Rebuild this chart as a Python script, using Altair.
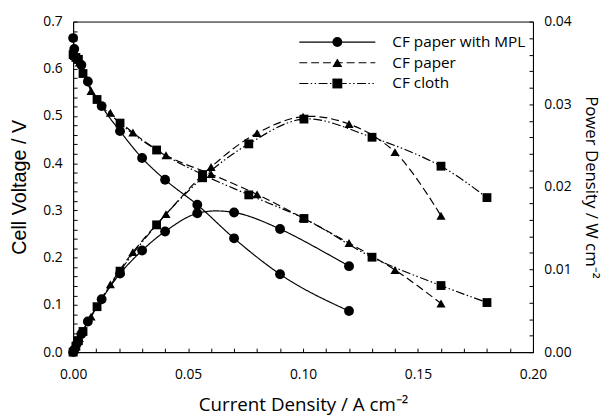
import altair as alt
import pandas as pd

# ---------------- data ----------------
series_names = ["CF paper with MPL", "CF paper", "CF cloth"]

mpl_current = [0.0, 0.0005, 0.0018, 0.0036, 0.0064, 0.0124, 0.0204, 0.030, 0.040, 0.054, 0.070, 0.090, 0.120]
mpl_voltage = [0.665, 0.642, 0.620, 0.608, 0.573, 0.521, 0.468, 0.411, 0.365, 0.312, 0.241, 0.165, 0.087]
mpl_power = [0.0, 0.0003, 0.0011, 0.0022, 0.0037, 0.0064, 0.0095, 0.0123, 0.0146, 0.0168, 0.0169, 0.0149, 0.0104]

paper_current = [0.0, 0.0005, 0.0027, 0.0078, 0.0162, 0.026, 0.0404, 0.060, 0.080, 0.100, 0.120, 0.140, 0.160]
paper_voltage = [0.637, 0.627, 0.613, 0.553, 0.507, 0.465, 0.417, 0.377, 0.334, 0.284, 0.231, 0.174, 0.103]
paper_power = [0.0, 0.0003, 0.0017, 0.0043, 0.0082, 0.0121, 0.0167, 0.0224, 0.0265, 0.0285, 0.0276, 0.0242, 0.0165]

cloth_current = [0.0, 0.0012, 0.0023, 0.0043, 0.0104, 0.0204, 0.0363, 0.0563, 0.0764, 0.1004, 0.130, 0.160, 0.180]
cloth_voltage = [0.630, 0.624, 0.620, 0.590, 0.535, 0.485, 0.428, 0.376, 0.333, 0.283, 0.201, 0.141, 0.105]
cloth_power = [0.0, 0.0007, 0.0014, 0.0025, 0.0055, 0.0098, 0.0154, 0.0211, 0.0252, 0.0282, 0.0260, 0.0225, 0.0187]

x_tick_values = [round(i * 0.01, 2) for i in range(0, 21)]
v_tick_values = [round(i * 0.02, 2) for i in range(0, 36)]
p_tick_values = [round(i * 0.002, 3) for i in range(0, 21)]

# ---------------- build table ----------------
rows = []
for k, (name, cur, volt, pw) in enumerate([
    (series_names[0], mpl_current, mpl_voltage, mpl_power),
    (series_names[1], paper_current, paper_voltage, paper_power),
    (series_names[2], cloth_current, cloth_voltage, cloth_power),
]):
    for i, v, p in zip(cur, volt, pw):
        rows.append({"series": name, "dash_key": f"d{k}", "I": i, "V": v, "P": p})
df = pd.DataFrame(rows)

# ---------------- styles ----------------
dash_keys = ["d0", "d1", "d2"]
dash_map = {
    series_names[0]: [1, 0],
    series_names[1]: [8, 4],
    series_names[2]: [9, 2.5, 1.5, 2.5, 1.5, 2.5],
}
shape_map = {series_names[0]: "circle", series_names[1]: "triangle-up", series_names[2]: "square"}
size_map = {series_names[0]: 100, series_names[1]: 85, series_names[2]: 80}

TICK_FONT = "Open Sans"

x_axis = alt.Axis(
    values=x_tick_values,
    labelExpr="round(datum.value*100) % 5 == 0 ? format(datum.value, '.2f') : ''",
    labelOverlap=False,
    labelFlush=False,
    tickSize={"expr": "-4"},
    labelPadding=20,
    title="Current Density / A cm\u207b\u00b2",
    titleFont=TICK_FONT,
    titleFontSize=19,
    titleFontWeight="normal",
    titlePadding=14,
    grid=False,
)
v_axis = alt.Axis(
    values=v_tick_values,
    labelExpr="round(datum.value*100) % 10 == 0 ? format(datum.value, '.1f') : ''",
    labelOverlap=False,
    labelFlush=False,
    tickSize={"expr": "-4"},
    labelPadding=15,
    title="Cell Voltage / V",
    titleFont="Liberation Sans",
    titleFontSize=20,
    titleFontWeight="normal",
    titlePadding=14,
    grid=False,
)
p_axis = alt.Axis(
    orient="right",
    values=p_tick_values,
    labelExpr="round(datum.value*1000) % 10 == 0 ? format(datum.value, '.2f') : ''",
    labelOverlap=False,
    labelFlush=False,
    tickSize={"expr": "-4"},
    labelPadding=15,
    title="Power Density / W cm\u207b\u00b2",
    titleFont=TICK_FONT,
    titleFontSize=17,
    titleFontWeight="normal",
    titlePadding=11,
    grid=False,
)

x_enc = alt.X("I:Q", scale=alt.Scale(domain=[0, 0.2], nice=False), axis=x_axis)
v_enc = alt.Y("V:Q", scale=alt.Scale(domain=[0, 0.7], nice=False), axis=v_axis)
p_enc = alt.Y("P:Q", scale=alt.Scale(domain=[0, 0.04], nice=False), axis=p_axis)

base = alt.Chart(df)

v_layers = []
p_layers = []
for s in series_names:
    flt = alt.FieldEqualPredicate(field="series", equal=s)
    v_layers.append(
        base.mark_line(color="black", strokeWidth=1.2, strokeDash=dash_map[s], interpolate="monotone")
        .encode(x=x_enc, y=v_enc)
        .transform_filter(flt)
    )
    v_layers.append(
        base.mark_point(filled=True, color="black", opacity=1, shape=shape_map[s], size=size_map[s])
        .encode(x=x_enc, y=v_enc)
        .transform_filter(flt)
    )
    p_layers.append(
        base.mark_line(color="black", strokeWidth=1.2, strokeDash=dash_map[s], interpolate="catmull-rom")
        .encode(x=x_enc, y=p_enc)
        .transform_filter(flt)
    )
    p_layers.append(
        base.mark_point(filled=True, color="black", opacity=1, shape=shape_map[s], size=size_map[s])
        .encode(x=x_enc, y=p_enc)
        .transform_filter(flt)
    )

common_legend = dict(
    title=None,
    orient="none",
    legendX=226,
    legendY=13,
    labelFont=TICK_FONT,
    labelFontSize=15.5,
    labelColor="black",
    symbolSize=100,
    symbolOffset=34,
    labelOffset=48,
    symbolStrokeWidth=1.2,
    rowPadding=4,
    padding=0,
)

# legend part 1: the line samples (their labels left empty)
legend_lines = (
    base.mark_line(color="black", strokeWidth=1.2)
    .encode(
        x=x_enc,
        y=v_enc,
        strokeDash=alt.StrokeDash(
            "dash_key:N",
            scale=alt.Scale(domain=dash_keys, range=[dash_map[s] for s in series_names]),
            legend=alt.Legend(
                symbolType="M-7.7,0L7.7,0",
                symbolStrokeColor="black",
                labelExpr="''",
                labelOpacity=0,
                **common_legend,
            ),
        ),
    )
    .transform_filter("false")
)

# legend part 2: the markers and labels
legend_marks = (
    base.mark_point(filled=True, color="black", opacity=1, size=100)
    .encode(
        x=x_enc,
        y=v_enc,
        shape=alt.Shape(
            "series:N",
            scale=alt.Scale(domain=series_names, range=[shape_map[s] for s in series_names]),
            legend=alt.Legend(symbolFillColor="black", **common_legend),
        ),
    )
    .transform_filter("false")
)

v_group = alt.layer(*v_layers, legend_lines, legend_marks)
p_group = alt.layer(*p_layers)

chart = (
    alt.layer(v_group, p_group)
    .resolve_scale(y="independent")
    .properties(
        width=466,
        height=335,
        autosize=alt.AutoSizeParams(type="none"),
        padding={"left": 66, "top": 11, "right": 73, "bottom": 64},
    )
    .configure(background="white")
    .configure_view(stroke="black", strokeWidth=1)
    .configure_axis(
        labelFont=TICK_FONT,
        labelFontSize=14,
        labelColor="black",
        titleColor="black",
        domainColor="black",
        domainWidth=1,
        tickColor="black",
        tickWidth=1,
    )
)

chart.save("out.html", embed_options={"renderer": "svg", "actions": False})
